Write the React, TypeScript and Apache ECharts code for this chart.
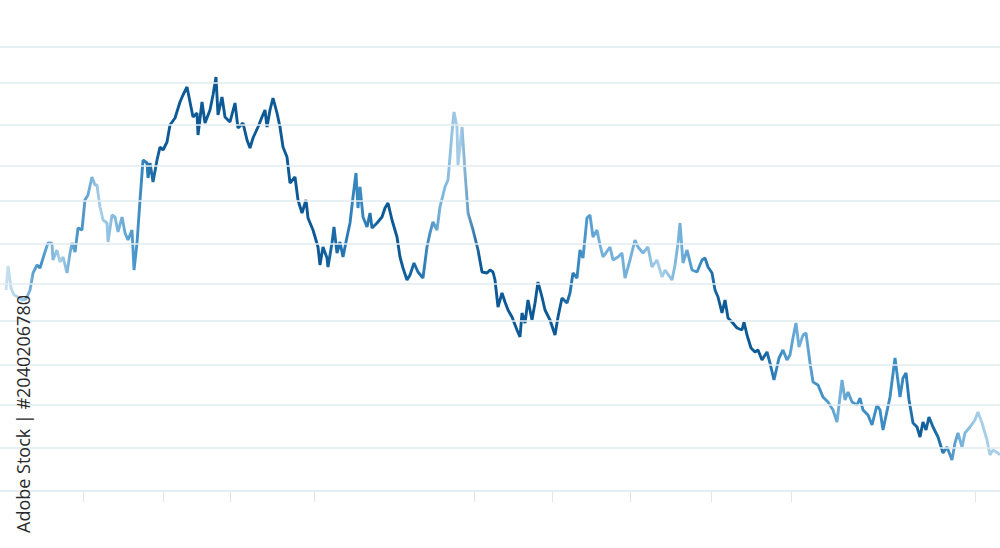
import React, { useEffect, useRef } from "react";
import * as echarts from "echarts";

// x position along the series (0–1000 scale) and value (0–444 scale)
const xs: number[] = [
  6, 8, 11, 14, 18, 22, 26, 30, 33, 37, 40, 45, 48, 52, 53, 57, 60, 63, 67, 70,
  72, 75, 78, 82, 85, 88, 92, 95, 97, 100, 103, 107, 108, 112, 115, 118, 122, 125, 128, 132,
  134, 137, 140, 143, 147, 148, 150, 153, 157, 160, 163, 167, 170, 175, 180, 183, 187, 190, 193, 197,
  198, 202, 205, 210, 213, 216, 218, 222, 225, 230, 235, 238, 243, 247, 250, 253, 258, 262, 265, 267,
  270, 273, 277, 280, 283, 287, 290, 295, 298, 302, 306, 308, 313, 318, 320, 323, 327, 328, 332, 334,
  337, 340, 343, 347, 350, 353, 356, 358, 360, 363, 367, 370, 372, 377, 382, 385, 388, 392, 397, 400,
  403, 407, 410, 414, 418, 423, 427, 430, 433, 437, 440, 445, 448, 452, 454, 457, 458, 462, 465, 468,
  473, 478, 482, 487, 490, 493, 495, 498, 502, 505, 508, 512, 517, 520, 522, 525, 528, 532, 535, 538,
  542, 545, 550, 555, 558, 562, 567, 570, 573, 577, 580, 583, 587, 590, 593, 597, 600, 603, 610, 613,
  618, 622, 625, 630, 635, 638, 643, 648, 652, 657, 662, 665, 672, 675, 678, 680, 683, 687, 692, 697,
  702, 705, 708, 712, 715, 718, 722, 725, 728, 732, 737, 742, 744, 747, 751, 755, 758, 762, 767, 770,
  774, 777, 779, 783, 787, 790, 793, 796, 799, 803, 806, 810, 813, 818, 823, 828, 833, 837, 842, 845,
  848, 852, 857, 860, 863, 868, 872, 877, 880, 883, 890, 895, 900, 903, 906, 909, 913, 917, 920, 923,
  926, 929, 933, 938, 943, 947, 952, 955, 958, 962, 965, 970, 975, 978, 982, 987, 990, 993, 998, 1000,
];

const values: number[] = [
  201, 225, 203, 196, 194, 191, 192, 201, 218, 226, 223, 239, 248, 248, 231, 241, 229, 234, 218, 238,
  248, 239, 263, 261, 291, 296, 314, 306, 306, 284, 271, 268, 249, 276, 274, 259, 274, 258, 251, 261,
  221, 248, 291, 331, 328, 313, 328, 309, 331, 344, 341, 349, 366, 373, 389, 396, 404, 389, 374, 378,
  356, 389, 368, 381, 396, 414, 376, 394, 374, 369, 388, 363, 368, 351, 343, 353, 364, 374, 381, 364,
  381, 393, 378, 364, 344, 334, 308, 314, 291, 278, 291, 273, 261, 244, 226, 244, 233, 224, 248, 264,
  238, 249, 234, 254, 268, 294, 318, 283, 304, 274, 264, 278, 263, 268, 274, 283, 288, 271, 254, 234,
  223, 211, 216, 228, 219, 213, 244, 258, 269, 261, 284, 304, 311, 358, 379, 364, 326, 364, 318, 278,
  261, 241, 219, 218, 221, 219, 211, 184, 198, 189, 181, 174, 161, 154, 178, 168, 191, 171, 188, 209,
  194, 181, 171, 156, 174, 193, 188, 198, 218, 213, 241, 233, 273, 276, 254, 261, 246, 234, 244, 231,
  234, 238, 213, 231, 251, 244, 238, 244, 224, 231, 214, 221, 211, 226, 248, 268, 228, 241, 221, 219,
  231, 233, 224, 218, 201, 194, 178, 191, 173, 169, 163, 161, 169, 156, 143, 139, 141, 131, 139, 128,
  111, 124, 133, 141, 131, 136, 153, 168, 144, 156, 158, 128, 109, 106, 94, 89, 81, 69, 111, 91,
  99, 89, 86, 93, 81, 76, 66, 86, 81, 61, 94, 133, 94, 113, 118, 91, 68, 64, 54, 69,
  61, 74, 64, 54, 38, 44, 31, 48, 58, 44, 58, 64, 71, 79, 68, 51, 36, 41, 38, 36,
];

// horizontal guide levels (same value scale)
const gridLevels: number[] = [444, 408, 366, 325, 290, 247, 207, 170, 126, 86, 43];

// line colour along the x scale, one entry every 20 units from 0 to 1000
const toneColors: string[] = [
  "#d4e6f4", "#a9cfe8", "#3d8dc4", "#a9cfe8", "#3d8dc4", "#a9cfe8", "#74b1da", "#3d8dc4", "#0d5a97", "#0d5a97",
  "#0d5a97", "#0d5a97", "#0d5a97", "#0d5a97", "#0d5a97", "#0d5a97", "#0d5a97", "#1f71ad", "#3d8dc4", "#0d5a97",
  "#0d5a97", "#1f71ad", "#74b1da", "#a9cfe8", "#0d5a97", "#0d5a97", "#0d5a97", "#0d5a97", "#0d5a97", "#3d8dc4",
  "#74b1da", "#74b1da", "#74b1da", "#a9cfe8", "#74b1da", "#3d8dc4", "#0d5a97", "#0d5a97", "#0d5a97", "#3d8dc4",
  "#74b1da", "#3d8dc4", "#74b1da", "#3d8dc4", "#3d8dc4", "#3d8dc4", "#0d5a97", "#1f71ad", "#74b1da", "#a9cfe8",
  "#a9cfe8",
];

const tickPositions: number[] = [83, 163, 230, 314, 474, 552, 630, 711, 791, 975];

export default function App() {
  const ref = useRef<HTMLDivElement>(null);

  useEffect(() => {
    if (!ref.current) return;
    const chart = echarts.init(ref.current, null, { renderer: "svg" });
    const data = xs.map((x, i) => [x, values[i]]);
    chart.setOption({
      animation: false,
      backgroundColor: "#ffffff",
      grid: { left: 0, right: 0, top: 47, bottom: 57, containLabel: false },
      xAxis: {
        type: "value",
        min: 0,
        max: 1000,
        splitLine: { show: false },
        axisLine: { show: true, lineStyle: { color: "#dce7ee", width: 1.5 } },
        axisTick: {
          show: true,
          customValues: tickPositions,
          length: 11,
          lineStyle: { color: "#e2e6e9", width: 1 },
        },
        axisLabel: { show: false },
      },
      yAxis: {
        type: "value",
        min: 0,
        max: 444,
        axisLine: { show: false },
        axisTick: { show: false },
        axisLabel: { show: false },
        splitLine: { show: false },
      },
      visualMap: {
        type: "continuous",
        show: false,
        dimension: 0,
        min: 0,
        max: 1000,
        seriesIndex: 0,
        inRange: { color: toneColors },
      },
      series: [
        {
          type: "line",
          data,
          showSymbol: false,
          symbol: "none",
          lineStyle: { width: 2.9 },
          z: 3,
        },
        {
          type: "line",
          data: [],
          z: 1,
          markLine: {
            silent: true,
            symbol: "none",
            label: { show: false },
            lineStyle: { color: "#e1ebf1", width: 1.5, type: "solid" },
            data: gridLevels.map((v) => ({ yAxis: v })),
          },
        },
      ],
      graphic: [
        {
          type: "text",
          x: 23,
          y: 533,
          rotation: Math.PI / 2,
          z: 100,
          style: {
            text: "Adobe Stock | #2040206780",
            fontSize: 18,
            fontFamily: "Open Sans",
            fontWeight: 500,
            fill: "#2a2a2a",
            textAlign: "left",
            textVerticalAlign: "middle",
          },
        },
      ],
    });
    return () => chart.dispose();
  }, []);

  return (
    <div
      ref={ref}
      style={{ position: "fixed", left: 0, top: 0, width: 1000, height: 548, background: "#fff" }}
    />
  );
}
